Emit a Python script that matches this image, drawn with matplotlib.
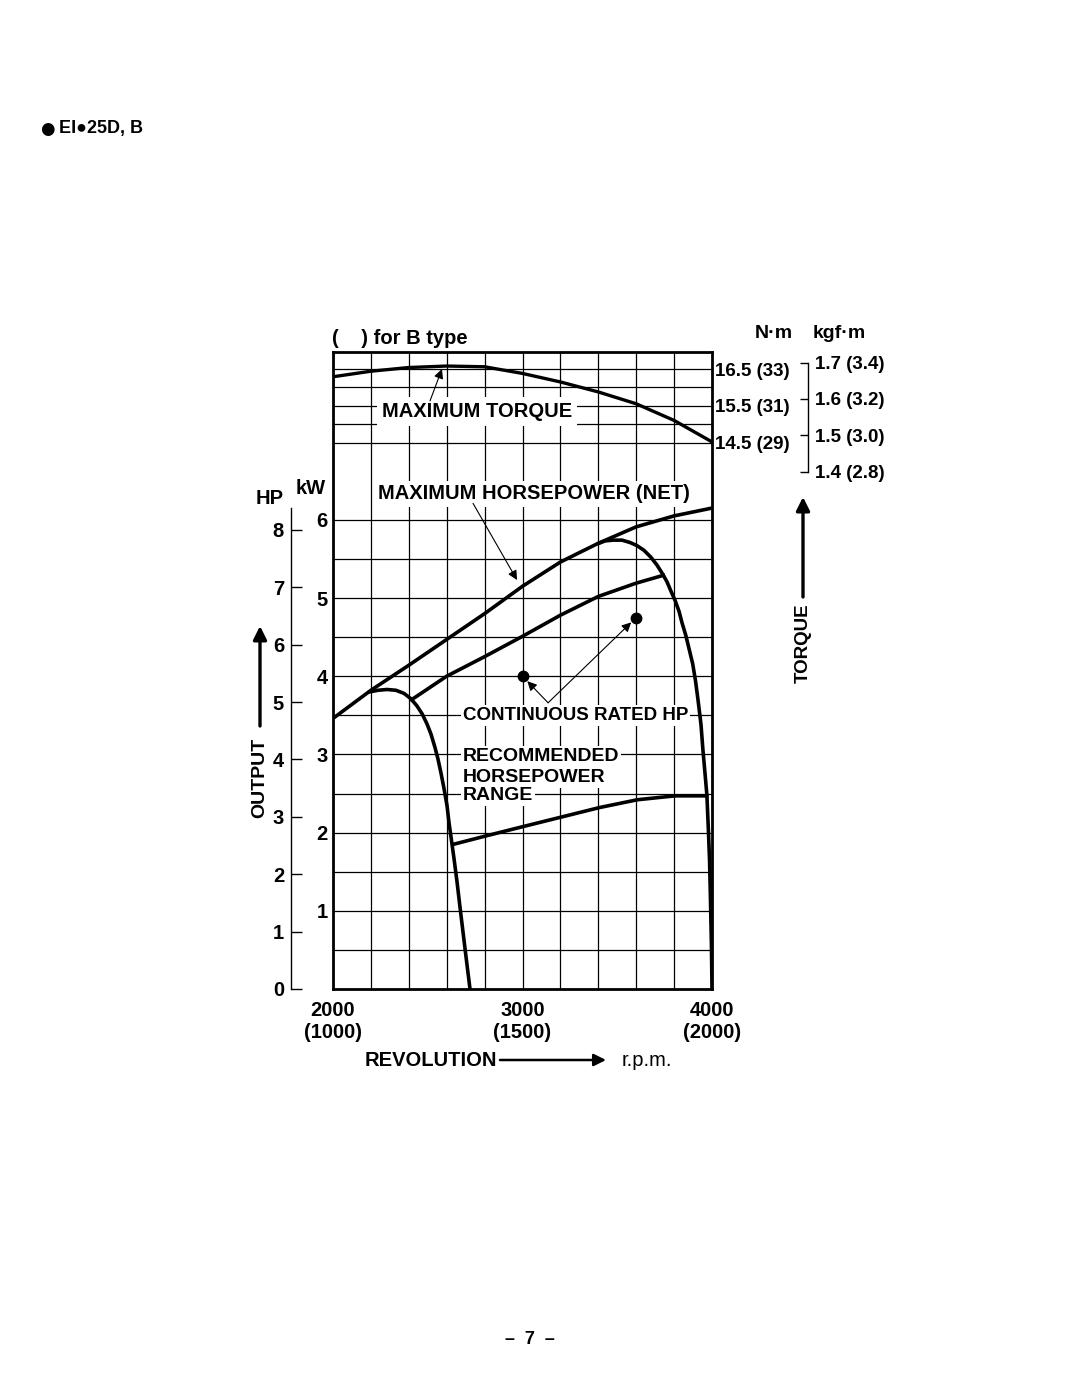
import matplotlib
matplotlib.use('Agg')
import matplotlib.pyplot as plt
import numpy as np

plt.rcParams['font.family'] = ['Liberation Sans', 'DejaVu Sans']
plt.rcParams['font.weight'] = 'bold'

# curves (rpm, kW / N·m)
rpm_torque = [2000, 2200, 2400, 2600, 2800, 3000, 3200, 3400, 3600, 3800, 4000]
torque_nm = [16.29, 16.44, 16.54, 16.58, 16.56, 16.38, 16.15, 15.88, 15.56, 15.11, 14.53]

rpm_max_hp = [2000, 2200, 2400, 2600, 2800, 3000, 3200, 3400, 3600, 3800, 4000]
max_hp_kw = [3.46, 3.82, 4.14, 4.47, 4.80, 5.15, 5.46, 5.70, 5.91, 6.05, 6.15]

rpm_cont = [2415, 2600, 2800, 3000, 3200, 3400, 3600, 3743]
cont_kw = [3.70, 4.00, 4.25, 4.51, 4.78, 5.02, 5.19, 5.29]

rpm_gov_low = [2195, 2237, 2285, 2332, 2375, 2412, 2443, 2470, 2496, 2517, 2538, 2554,
               2570, 2586, 2602, 2612, 2623, 2639, 2654, 2670, 2686, 2702, 2723]
gov_low_kw = [3.80, 3.82, 3.83, 3.82, 3.78, 3.71, 3.62, 3.52, 3.39, 3.26, 3.09, 2.94,
              2.76, 2.56, 2.34, 2.13, 1.94, 1.66, 1.38, 1.05, 0.73, 0.41, 0.0]

rpm_gov_high = [3404, 3435, 3478, 3525, 3567, 3604, 3641, 3678, 3710, 3736, 3762, 3783,
                3805, 3826, 3841, 3862, 3878, 3898, 3913, 3926, 3942, 3952, 3963, 3973,
                3981, 3987, 3992, 3997, 4000]
gov_high_kw = [5.70, 5.73, 5.74, 5.74, 5.71, 5.67, 5.61, 5.52, 5.42, 5.32, 5.21, 5.09,
               4.97, 4.83, 4.69, 4.52, 4.36, 4.16, 3.94, 3.70, 3.38, 3.06, 2.76, 2.48,
               2.03, 1.65, 1.14, 0.56, 0.0]

rpm_rec = [2635, 2811, 3008, 3207, 3406, 3606, 3805, 3972]
rec_kw = [1.85, 1.96, 2.08, 2.20, 2.32, 2.42, 2.47, 2.47]

rated_rpm = [3000, 3600]
rated_kw = [4.00, 4.75]

# tick labels
rpm_ticks = [2000, 3000, 4000]
rpm_labels = ['2000\n(1000)', '3000\n(1500)', '4000\n(2000)']
kw_ticks = [1, 2, 3, 4, 5, 6]
hp_ticks = [0, 1, 2, 3, 4, 5, 6, 7, 8]
nm_ticks = [14.5, 15.5, 16.5]
nm_labels = ['14.5 (29)', '15.5 (31)', '16.5 (33)']
kgf_ticks = [1.4, 1.5, 1.6, 1.7]
kgf_labels = ['1.4 (2.8)', '1.5 (3.0)', '1.6 (3.2)', '1.7 (3.4)']

W, H = 1080, 1397
KW_PX = 78.2   # pixels per kW
HP_PX = 57.4   # pixels per HP
NM_PX = 37.0   # pixels per N·m
KGF = 9.80665


def box(x0, y0, x1, y1):
    return [x0 / W, 1 - y1 / H, (x1 - x0) / W, (y1 - y0) / H]


def fx(x):
    return x / W


def fy(y):
    return 1 - y / H


fig = plt.figure(figsize=(W / 100, H / 100), dpi=100)

# power chart (whole frame)
ax = fig.add_axes(box(333, 352, 712, 989))
ax.set_xlim(2000, 4000)
ax.set_ylim(0, (989 - 352) / KW_PX)
ax.set_xticks(rpm_ticks)
ax.set_xticklabels(rpm_labels)
ax.set_xticks(np.arange(2200, 4000, 200), minor=True)
ax.set_yticks(kw_ticks)
ax.set_yticks(np.arange(0.5, 6, 1.0), minor=True)
ax.grid(True, which='both', color='black', lw=0.9)
ax.tick_params(which='both', length=0)
ax.tick_params(axis='x', pad=9, labelsize=14.5)
ax.tick_params(axis='y', pad=4, labelsize=14.5)
for s in ax.spines.values():
    s.set_linewidth(2.0)

lw = 2.6
ax.plot(rpm_max_hp, max_hp_kw, color='black', lw=lw, zorder=4, solid_joinstyle='round')
ax.plot(rpm_cont, cont_kw, color='black', lw=lw, zorder=4, solid_joinstyle='round')
ax.plot(rpm_gov_low, gov_low_kw, color='black', lw=lw, zorder=4, solid_joinstyle='round')
ax.plot(rpm_gov_high, gov_high_kw, color='black', lw=lw, zorder=4, solid_joinstyle='round')
ax.plot(rpm_rec, rec_kw, color='black', lw=lw, zorder=4, solid_joinstyle='round')
ax.plot(rated_rpm, rated_kw, 'o', color='black', ms=7.5, zorder=5)

ax.text(3061, 6.33, 'MAXIMUM HORSEPOWER (NET)', ha='center', va='center', fontsize=14.5,
        bbox=dict(fc='white', ec='none', boxstyle='square,pad=0.15'))
ax.annotate('', xy=(2971, 5.23), xytext=(2739, 6.21),
            arrowprops=dict(arrowstyle='-|>', lw=0.8, color='black', mutation_scale=14,
                            shrinkA=0, shrinkB=0))

ax.text(2686, 3.50, 'CONTINUOUS RATED HP', ha='left', va='center', fontsize=13.5,
        bbox=dict(fc='white', ec='none', boxstyle='square,pad=0.1'))
for r, k in zip(rated_rpm, rated_kw):
    ax.annotate('', xy=(r, k), xytext=(3135, 3.66),
                arrowprops=dict(arrowstyle='-|>', lw=0.8, color='black', mutation_scale=14,
                                shrinkA=0, shrinkB=5))

for txt, k in [('RECOMMENDED', 2.97), ('HORSEPOWER', 2.71), ('RANGE', 2.47)]:
    ax.text(2686, k, txt, ha='left', va='center', fontsize=14,
            bbox=dict(fc='white', ec='none', boxstyle='square,pad=0.1'))

# torque part at the top of the frame
tax = fig.add_axes(box(333, 352, 712, 446))
tax.set_xlim(2000, 4000)
tax.set_ylim(14.5 - 3 / NM_PX, 14.5 + (443 - 352) / NM_PX)
tax.patch.set_visible(False)
for s in tax.spines.values():
    s.set_visible(False)
tax.set_xticks([])
tax.yaxis.tick_right()
tax.set_yticks(nm_ticks)
tax.set_yticklabels(nm_labels)
tax.set_yticks([15.0, 16.0], minor=True)
tax.grid(True, axis='y', which='both', color='black', lw=0.9)
tax.tick_params(which='both', length=0, pad=2, labelsize=13.5)
tax.plot(rpm_torque, torque_nm, color='black', lw=2.4, zorder=4, solid_joinstyle='round')
tax.text(2760, 15.34, 'MAXIMUM TORQUE', ha='center', va='center', fontsize=14.5,
         bbox=dict(fc='white', ec='none', boxstyle='square,pad=0.25'))
tax.annotate('', xy=(2575, 16.5), xytext=(2512, 15.64),
             arrowprops=dict(arrowstyle='-|>', lw=0.8, color='black', mutation_scale=14,
                             shrinkA=0, shrinkB=0))

# kgf·m bracket
kax = fig.add_axes(box(333, 352, 712, 480))
kax.set_ylim((14.5 - (480 - 443) / NM_PX) / KGF, (14.5 + (443 - 352) / NM_PX) / KGF)
kax.patch.set_visible(False)
for name, s in kax.spines.items():
    s.set_visible(name == 'right')
kax.spines['right'].set_position(('axes', (808 - 333) / 379))
kax.spines['right'].set_bounds(1.4, 1.7)
kax.spines['right'].set_linewidth(1.0)
kax.set_xticks([])
kax.yaxis.tick_right()
kax.set_yticks(kgf_ticks)
kax.set_yticklabels(kgf_labels)
kax.tick_params(axis='y', direction='in', length=5.8, width=1, pad=5, labelsize=13.5)

# HP scale on the left
hax = fig.add_axes(box(333, 352, 712, 989))
hax.set_ylim(0, (989 - 352) / HP_PX)
hax.patch.set_visible(False)
for name, s in hax.spines.items():
    s.set_visible(name == 'left')
hax.spines['left'].set_position(('axes', (291 - 333) / 379))
hax.spines['left'].set_bounds(0, (989 - 508) / HP_PX)
hax.spines['left'].set_linewidth(1.0)
hax.set_xticks([])
hax.set_yticks(hp_ticks)
hax.tick_params(axis='y', direction='in', length=8, width=1, pad=5, labelsize=14.5)

# surrounding labels
fig.text(fx(270), fy(498), 'HP', ha='center', va='center', fontsize=14.5)
fig.text(fx(311), fy(488), 'kW', ha='center', va='center', fontsize=14.5)
fig.text(fx(260), fy(778), 'OUTPUT', rotation=90, ha='center', va='center', fontsize=14)
fig.text(fx(803), fy(643), 'TORQUE', rotation=90, ha='center', va='center', fontsize=13.5)
arrow = dict(arrowstyle='-|>', lw=2.4, color='black', mutation_scale=20, shrinkA=0, shrinkB=0)
ax.annotate('', xy=(fx(260), fy(626)), xytext=(fx(260), fy(726)),
            xycoords='figure fraction', textcoords='figure fraction', arrowprops=arrow)
ax.annotate('', xy=(fx(803), fy(497)), xytext=(fx(803), fy(597)),
            xycoords='figure fraction', textcoords='figure fraction', arrowprops=arrow)
fig.text(fx(365), fy(1060), 'REVOLUTION', ha='left', va='center', fontsize=14.5)
ax.annotate('', xy=(fx(606), fy(1060)), xytext=(fx(500), fy(1060)),
            xycoords='figure fraction', textcoords='figure fraction',
            arrowprops=dict(arrowstyle='-|>', lw=1.8, color='black', mutation_scale=18,
                            shrinkA=0, shrinkB=0))
fig.text(fx(622), fy(1060), 'r.p.m.', ha='left', va='center', fontsize=14.5, fontweight='normal')

fig.text(fx(332), fy(338), '(    ) for B type', ha='left', va='center', fontsize=14.5)
fig.text(fx(755), fy(333), 'N·m', ha='left', va='center', fontsize=14)
fig.text(fx(813), fy(333), 'kgf·m', ha='left', va='center', fontsize=14)
fig.text(fx(40), fy(129), '●', ha='left', va='center', fontsize=12, family='DejaVu Sans')
fig.text(fx(59), fy(128), 'EI●25D, B', ha='left', va='center', fontsize=13)
fig.text(fx(530), fy(1340), '–  7  –', ha='center', va='center', fontsize=13)

fig.savefig('out.png', dpi=100)
